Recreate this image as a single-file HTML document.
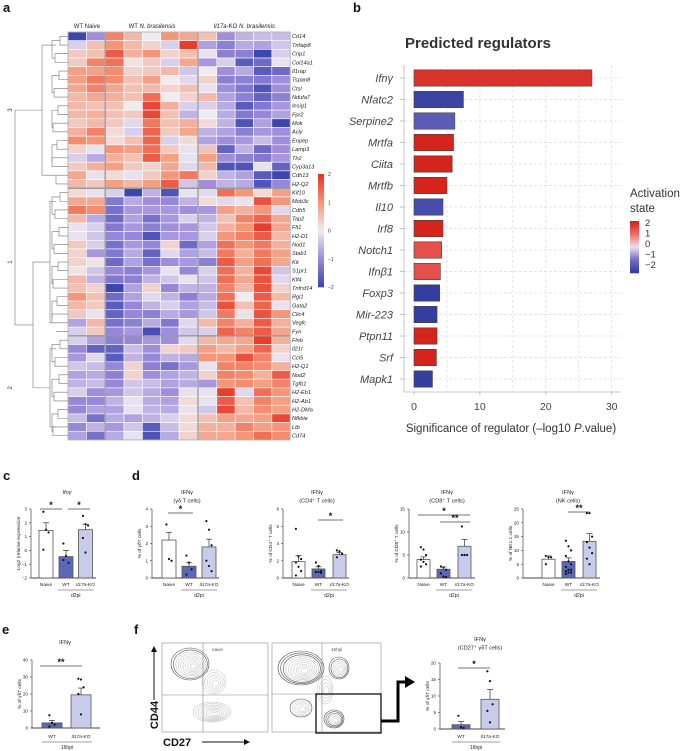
<!DOCTYPE html>
<html><head><meta charset="utf-8"><style>
html,body{margin:0;padding:0;background:#fff;}
svg{display:block;font-family:"Liberation Sans",sans-serif;}
</style></head><body>
<svg id="fig" width="683" height="751" viewBox="0 0 683 751" xmlns="http://www.w3.org/2000/svg">
<g font-weight="bold" font-size="13" fill="#111">
<text x="3" y="12">a</text>
<text x="353" y="12">b</text>
<text x="3" y="480">c</text>
<text x="132" y="480">d</text>
<text x="2" y="634">e</text>
<text x="134" y="634">f</text>
</g>
<g id="heat"></g>
<g id="regs"></g>
<g id="bars"></g>
<g id="flow"></g>
</svg>
<script>
const NS="http://www.w3.org/2000/svg";
// ---------- heatmap data ----------
const heatGenes=["Cd14","Tnfaip8","Crip1","Col14a1","Il1rap","Tspan8","Ctsl","Ndufa7","Insig1","Fpr2","Mok","Acly","Enpep","Lamp3","Tlr2","Cyp3a13","Cdh13","H2-Q2",
"Kif10","Mob3c","Cdh5","Tap2","Flt1","H2-D1","Nod1","Stab1","Kit","S1pr1","Klf4","Tnfrsf14","Rgl1","Gata2","Clic4","Vegfc","Fyn",
"Flnb","Il21r","Ccl5","H2-Q1","Nod2","Tgfb1","H2-Eb1","H2-Ab1","H2-DMa","Nfkbie","Ltb","Cd74"];
const heatGroups=["WT Naive","WT N. brasilensis","Il17a-KO N. brasilensis"];
const heatValues=[
[-2,-1,1.2,0.6,0,1,0.8,0.5,-1,-0.6,-0.5,-0.5],
[-0.3,0.5,1,0.6,0.3,-0.3,1.9,-0.8,-1.2,-0.7,-0.8,-0.4],
[0.4,0.5,1.6,0.7,1,0.3,0.5,-0.1,-1.2,-1.2,-2,-0.3],
[0.4,1.2,1.4,0.1,0.4,-0.3,0.8,-0.9,-0.3,-1.7,-1.5,-0.1],
[0.9,0.9,1.1,0.3,0.4,0.6,-0.4,0,-1,-0.7,-1.7,-1.5],
[0.9,1.3,1.1,0.5,0.9,0,-0.2,0.3,-1.2,-1.2,-1.3,-1],
[0.8,1.2,0.8,0.5,0.6,0.3,0.5,-0.1,-1,-1.3,-1.8,-1],
[0.6,0.8,0.7,0.5,1.4,0,0.3,0.6,-0.8,-1.2,-1.6,-1.2],
[0.6,0.5,0.5,0,1.8,0.7,-0.3,-0.3,-0.7,-1.7,-1.3,-0.9],
[0.6,0.7,0.5,0.4,1.8,0.5,-0.6,0,-0.7,-1.3,-1.1,-0.8],
[0.4,0.6,0.4,-0.2,1.3,0.5,0.7,0.2,-0.6,-1.8,-0.8,-2],
[0.7,1.2,0.2,-0.3,1.5,0.4,0.8,-0.6,-0.8,-1.2,-0.9,-1],
[1.1,1,0.2,0.5,1.5,-0.3,0.2,-0.8,-1,-0.9,-0.5,-1],
[0.3,-0.1,1,0.9,1.4,0.4,-0.1,0.5,-1.6,-0.6,-1.5,-1],
[-0.3,-0.7,0.7,0.5,1.6,0.9,-0.1,0.9,-1,-1.2,-1.3,-0.9],
[0.4,0.7,0.9,0.4,0.3,0.8,-0.2,0.6,-1.8,-1.8,-0.1,-1.6],
[0.8,-0.1,0.2,-0.1,0.4,1,1.3,0.3,-0.6,-0.8,-1.7,-2],
[0.6,0.4,0.9,0.6,0.9,1.6,-0.4,-1,-0.6,-0.7,-1.8,-1.1],
[0.2,-0.1,-0.3,-2,-0.6,-1.8,-0.1,-0.2,1.4,1,0.2,0.9],
[0.8,0.8,-1.3,-0.7,-1,-1.1,-0.6,0.2,-0.2,-0.1,1.7,1],
[1.3,1.1,-1.4,-0.9,-0.9,-0.9,-1,-0.9,0.9,0.7,1,-0.2],
[0.6,-0.7,-1.5,-0.8,-1.4,-0.9,-0.3,-0.6,0.5,1.2,1.5,0.8],
[-0.1,-0.3,-1.3,-0.9,-1.2,-1,-0.9,-0.4,0.7,1,1.9,0.8],
[-0.1,-0.4,-1.1,-1.1,-1.8,-0.9,-0.9,-0.3,1,1.2,1.6,0.6],
[0.4,-0.3,-1.4,-0.9,-1.1,0.3,-1.5,-0.8,1.4,1,1.3,0.7],
[0.3,-0.9,-1.3,-0.7,-1.6,-0.2,-0.8,-0.5,1.3,0.7,1.3,0.9],
[0.3,0.1,-1.5,-0.8,-1.4,-1,-0.9,-1.2,1.6,0.9,1.4,0.8],
[0.1,-0.4,-1.1,-1.2,-0.9,-0.1,-1.1,-0.3,1.4,0.7,1.8,-0.4],
[0.6,-0.6,-1.3,-1.2,-0.6,-0.4,-0.1,-0.4,1.4,0.8,1.7,-0.2],
[0.5,0.3,-2,-0.8,0.3,-1.1,-0.6,-0.6,1.2,0.6,1.7,0.3],
[1,0.5,-1.5,-0.8,-0.2,-0.6,-1.2,-0.7,1.4,0,1.6,0.6],
[0.6,0.4,-1.7,-1.1,-0.6,-0.3,-0.8,-0.5,1.7,0.5,1.5,-0.1],
[0.4,-0.1,-1.6,-1.1,-1.2,-0.7,-0.9,-0.4,1.3,-0.1,1.7,1],
[-0.8,0.6,-1.4,-1.2,-0.7,-1.3,-0.2,0.6,1.2,0.7,1.6,0.7],
[-0.3,0.4,-1.1,-0.9,-1.9,-1,-0.4,-0.3,1.5,1.2,1.6,0.8],
[-0.3,-0.8,-1.2,-1.1,-0.9,-1,-0.2,0.6,0.8,0.8,1.9,0.7],
[-1.1,-1.6,-1.6,-0.5,-1,0.3,0.4,0.9,0.6,0.9,1.5,0.3],
[-0.9,-0.2,-1.7,-0.6,-1.1,-0.6,-0.7,1,1,1.7,1.2,-0.1],
[-0.4,-0.5,-1.1,0.3,-1.2,-1.4,-0.9,-0.1,1.2,1.2,1.1,0.7],
[-0.8,-0.7,-1.2,0.3,-1,-0.8,-0.6,0.3,1.2,1.1,0.7,1.6],
[-0.6,-0.5,-1.1,-0.4,-0.5,-0.8,-0.7,-0.9,1,1.1,0.9,1.2],
[-0.3,-1,-0.9,-0.4,-0.7,-1,-0.1,-0.1,1.9,-0.2,1.4,1],
[-1.1,-1.1,-0.6,-0.1,-0.7,-0.8,0.2,-0.1,1.6,0.5,1.2,0.9],
[-1.1,-0.8,-0.8,-0.1,-0.6,-0.7,-0.1,-0.4,1.8,0.6,1.1,0.9],
[-0.5,-1.4,-0.7,-0.8,-0.6,-0.3,0.2,0.5,0.9,0.8,0.9,1.8],
[-1.1,-0.6,-0.9,-0.4,-1.7,-0.5,0.2,0.7,0.7,1.2,0.9,1],
[-0.8,-1.4,-0.7,-0.1,-1.8,-0.7,0.3,0.8,0.8,1,1.4,1.1]];
const heatClusterSizes=[18,17,12];
const heatClusterNames=["3","1","2"];
const heatLegendTicks=[2,1,0,-1,-2];
// ---------- regulators data ----------
const regNames=["Ifnγ","Nfatc2","Serpine2","Mrtfa","Ciita","Mrtfb","Il10","Irf8","Notch1","Ifnβ1","Foxp3","Mir-223","Ptpn11","Srf","Mapk1"];
const regSignif=[27,7.5,6.2,6.0,5.8,5.0,4.4,4.4,4.2,4.0,3.9,3.5,3.5,3.4,2.8];
const regActivation=[1.8,-1.9,-1.4,2.4,2.1,2.1,-1.7,2.4,1.4,1.4,-2,-2.3,2.1,2.1,-2];
const regTicks=[0,10,20,30];
const regLegendTicks=[2,1,0,-1,-2];
// ---------- bar chart data ----------
const cMeans=[1.45,-0.45,1.5], cSems=[0.55,0.45,0.4];
const cPts=[[2.8,1.5,1.3,0.05],[0.5,-0.4,-0.9,-0.7],[2.5,1.9,1.8,0.9,-0.15]];
const gdMeans=[2.2,0.68,1.8], gdSems=[0.45,0.2,0.45];
const gdPts=[[3.1,1.1,1.0],[1.3,0.9,0.5,0.2],[3.3,2.8,1.9,1.0,0.7,0.4]];
const cd4Means=[1.9,1.05,2.7], cd4Sems=[0.7,0.25,0.25];
const cd4Pts=[[5.7,2.5,2.2,1.8,1.3,0.8,0.3],[1.8,1.4,0.8,0.7,0.7,0.6],[3.2,3.1,2.8,2.4]];
const cd8Means=[4.0,1.9,6.9], cd8Sems=[0.6,0.5,1.5];
const cd8Pts=[[6.7,6.2,5,4,3.5,3,2.5],[2.5,2.3,1.8,1,0.3,0.2],[11.2,5,5,5,5]];
const nkMeans=[6.8,6.0,13.3], nkSems=[1.2,1.3,2.8];
const nkPts=[[8,7.5,7.5,5],[13.5,11.5,10,8,6,5,4,3,3,2.5,2,2,1.5],[23.5,23.5,15,13,11,9,7,5]];
const eMeans=[3,19.5], eSems=[1.5,4];
const ePts=[[7.5,3,2,0.8],[29,28.5,24,20,8]];
const fMeans=[1.3,9], fSems=[1,3];
const fPts=[[4,0.5,0.3],[17.5,14.5,7.5,5.5,2]];
const cats3=["Naive","WT","Il17a-KO"], cats2=["WT","Il17a-KO"];

function el(tag,attrs,parent,txt){const e=document.createElementNS(NS,tag);for(const k in attrs)e.setAttribute(k,attrs[k]);if(txt!==undefined)e.textContent=txt;parent.appendChild(e);return e;}
function lerp(a,b,t){return a.map((v,i)=>Math.round(v+(b[i]-v)*t));}
function scaleColor(v,stops){const c=Math.max(-2,Math.min(2,v));const i=Math.min(3,Math.floor(c+2));const t=c+2-i;const r=lerp(stops[i],stops[i+1],t);return `rgb(${r[0]},${r[1]},${r[2]})`;}
const heatStops=[[60,70,175],[160,142,220],[240,235,240],[245,150,120],[230,52,38]];
const regStops=[[52,62,160],[120,110,200],[235,225,240],[238,110,105],[212,36,28]];

// ---------- heatmap ----------
(function(){
const g=document.getElementById('heat');
const x0=68,y0=32,cw=18.35,rh=8.68;
const colX=i=>x0+i*cw+(i>=2?1:0)+(i>=7?1:0);
heatValues.forEach((row,r)=>{row.forEach((v,c)=>{
 const rc=el('rect',{x:colX(c),y:y0+r*rh,width:cw,height:rh,fill:scaleColor(v,heatStops),stroke:'#fff','stroke-width':0.6},g);
 
 
});
 const t=el('text',{x:292,y:y0+r*rh+rh*0.72,'font-size':5.6,'font-style':'italic',fill:'#222'},g,heatGenes[r]);
 
 
});
const totalW=colX(11)+cw;
let acc=0;
heatClusterSizes.forEach((n,i)=>{acc+=n;if(i<heatClusterSizes.length-1)el('line',{x1:x0,x2:totalW,y1:y0+acc*rh,y2:y0+acc*rh,stroke:'#999','stroke-width':1.4},g);});
[colX(2)-0.5,colX(7)-0.5].forEach(x=>el('line',{x1:x,x2:x,y1:y0,y2:y0+heatGenes.length*rh,stroke:'#999','stroke-width':1.4},g));
el('rect',{x:x0,y:y0,width:totalW-x0,height:heatGenes.length*rh,fill:'none',stroke:'#aaa','stroke-width':0.8},g);
const hx=[(colX(0)+colX(2))/2,(colX(2)+colX(7))/2,(colX(7)+totalW)/2];
heatGroups.forEach((h,i)=>{const t=el('text',{x:hx[i],y:28,'font-size':6,'text-anchor':'middle',fill:'#222'},g);
 
 
 if(i===0)t.textContent=h;
 else if(i===1){el('tspan',{},t,'WT ');el('tspan',{'font-style':'italic'},t,'N. brasilensis');}
 else{el('tspan',{'font-style':'italic'},t,'Il17a');el('tspan',{},t,'-KO ');el('tspan',{'font-style':'italic'},t,'N. brasilensis');}
});
const d=el('g',{stroke:'#777','stroke-width':0.6,fill:'none'},g);


const yc=i=>y0+(i+0.5)*rh;
let start=0;const centers=[];
heatClusterSizes.forEach((n,ci)=>{
 const ys=[];for(let i=start;i<start+n;i++)ys.push(yc(i));
 for(let i=0;i<ys.length;i+=2){const a=ys[i],b=ys[Math.min(i+1,ys.length-1)];const lx=60-((i*7)%9);
  el('path',{d:`M68 ${a} H${lx} V${b} H68`},d);}
 for(let i=0;i<ys.length-2;i+=4){const a=(ys[i]+ys[i+1])/2,b=(ys[Math.min(i+2,ys.length-1)]+ys[Math.min(i+3,ys.length-1)])/2;const lx=52-((i*3)%6);
  el('path',{d:`M${60-((i*7)%9)} ${a} H${lx} V${b} H${60-(((i+2)*7)%9)}`},d);}
 const top=ys[0]+rh,bot=ys[ys.length-1]-rh;const mx=[42,50,50][ci];
 el('path',{d:`M56 ${top} H${mx} V${bot} H56`},d);
 centers.push((top+bot)/2);start+=n;
});
el('path',{d:`M50 ${centers[1]} H33 V${centers[2]} H50`},d);
const c12=(centers[1]+centers[2])/2;
el('path',{d:`M42 ${centers[0]} H15 V${c12} H33`},d);
heatClusterNames.forEach((nm,i)=>{const t=el('text',{x:0,y:0,'font-size':6,fill:'#333',transform:`translate(12,${centers[i]}) rotate(-90)`,'text-anchor':'middle'},g,nm);
 
 });
const lg=el('g',{},g);


const ly0=174,ly1=287;
for(let i=0;i<40;i++){const v=2-4*i/39;el('rect',{x:318,y:ly0+i*(ly1-ly0)/40,width:6,height:(ly1-ly0)/40+0.3,fill:scaleColor(v,heatStops)},lg);}
heatLegendTicks.forEach(v=>{const y=ly0+(2-v)/4*(ly1-ly0);el('text',{x:328,y:y+2,'font-size':5,fill:'#333'},lg,v<0?'−'+(-v):String(v));});
})();

// ---------- regulators ----------
(function(){
const g=document.getElementById('regs');
const px0=404,px1=621,py0=65,py1=392;
const xs=v=>414+v*(611.7-414)/30;
const rowY=i=>78+i*21.5;
const t=el('text',{x:405,y:48,'font-size':15,'font-weight':'bold',fill:'#333'},g,'Predicted  regulators');

const grid=el('g',{stroke:'#ddd','stroke-width':0.7,'stroke-dasharray':'3,2'},g);
for(let v=0;v<=30;v+=5)el('line',{x1:xs(v),x2:xs(v),y1:py0,y2:py1},grid);
regNames.forEach((n,i)=>el('line',{x1:px0,x2:px1,y1:rowY(i),y2:rowY(i)},grid));
el('line',{x1:px0,x2:px0,y1:py0,y2:py1,stroke:'#bbb','stroke-width':0.8},g);
el('line',{x1:px0,x2:px1,y1:py1,y2:py1,stroke:'#bbb','stroke-width':0.8},g);
regNames.forEach((n,i)=>{
 const b=el('rect',{x:xs(0),y:rowY(i)-8.2,width:xs(regSignif[i])-xs(0),height:16.4,fill:scaleColor(regActivation[i],regStops),stroke:'#444','stroke-width':0.6},g);
 
 
 el('line',{x1:px0-4,x2:px0,y1:rowY(i),y2:rowY(i),stroke:'#aaa','stroke-width':0.7},g);
 const l=el('text',{x:393,y:rowY(i)+4,'font-size':11,'font-style':'italic','text-anchor':'end',fill:'#444'},g,n);
 
});
regTicks.forEach(v=>{el('line',{x1:xs(v),x2:xs(v),y1:py1,y2:py1+3,stroke:'#aaa','stroke-width':0.7},g);
 const l=el('text',{x:xs(v),y:410,'font-size':10.5,'text-anchor':'middle',fill:'#444'},g,String(v));
 });
const xl=el('text',{x:511,y:432,'font-size':11.5,'text-anchor':'middle',fill:'#333'},g);

el('tspan',{},xl,'Significance of  regulator (–log10 ');el('tspan',{'font-style':'italic'},xl,'P');el('tspan',{},xl,'.value)');
const lt=el('text',{x:630,y:197,'font-size':11.5,fill:'#333'},g);

el('tspan',{x:630,y:197},lt,'Activation');el('tspan',{x:630,y:212},lt,'state');
for(let i=0;i<30;i++){const v=2-4*i/29;el('rect',{x:630,y:221+i*52/30,width:9,height:52/30+0.3,fill:scaleColor(v,regStops)},g);}
regLegendTicks.forEach(v=>el('text',{x:645,y:226+(2-v)/4*42,'font-size':9.5,fill:'#333'},g,v<0?'−'+(-v):String(v)));
})();

// ---------- small bar charts ----------
function barChart(o){
const g=el('g',{},document.getElementById('bars'));


const ys=v=>o.yBot-(v-o.vmin)/(o.vmax-o.vmin)*(o.yBot-o.yTop);
const colors=o.means.length===3?['#fff','#5b67b8','#c9cbeb']:['#5b67b8','#c9cbeb'];
el('line',{x1:o.axisX,x2:o.axisX,y1:o.yTop,y2:o.yBot,stroke:'#444','stroke-width':0.7},g);
el('line',{x1:o.axisX,x2:o.xEnd,y1:o.yBot,y2:o.yBot,stroke:'#444','stroke-width':0.9},g);
for(let v=o.vmin;v<=o.vmax+1e-9;v+=o.step){el('line',{x1:o.axisX-2,x2:o.axisX,y1:ys(v),y2:ys(v),stroke:'#444','stroke-width':0.6},g);
 el('text',{x:o.axisX-4,y:ys(v)+1.6,'font-size':4.6,'text-anchor':'end',fill:'#222'},g,v<0?'−'+(-v):String(v));}
o.means.forEach((m,i)=>{
 const cx=o.centers[i],w=o.barW;
 const b=el('rect',{x:cx-w/2,y:ys(m),width:w,height:o.yBot-ys(m),fill:colors[i],stroke:'#555','stroke-width':0.8},g);
 
 
 const top=ys(m+o.sems[i]);
 el('line',{x1:cx,x2:cx,y1:ys(m),y2:top,stroke:'#333','stroke-width':0.7},g);
 el('line',{x1:cx-3,x2:cx+3,y1:top,y2:top,stroke:'#333','stroke-width':0.7},g);
 o.pts[i].forEach((p,j)=>{const off=((j%3)-1)*2.6;const d=el('circle',{cx:cx+off,cy:ys(p),r:1.1,fill:'#111'},g);
  });
 const lab=el('text',{x:cx,y:o.catY,'font-size':4.8,'text-anchor':'middle',fill:'#222'},g);
 if(o.cats[i]==='Il17a-KO'){el('tspan',{'font-style':'italic'},lab,'Il17a');el('tspan',{},lab,'-KO');}else lab.textContent=o.cats[i];
});
const gx0=o.centers[o.centers.length-2]-o.barW/2-1,gx1=o.centers[o.centers.length-1]+o.barW/2+1;
const ul0=o.means.length===3?gx0:o.centers[0]-o.barW/2;
el('line',{x1:ul0,x2:gx1,y1:o.catY+4,y2:o.catY+4,stroke:'#444','stroke-width':0.6},g);
el('text',{x:(ul0+gx1)/2,y:o.catY+11,'font-size':5,'text-anchor':'middle',fill:'#222'},g,o.group);
o.titles.forEach((t,k)=>{const tt=el('text',{x:o.titleX,y:o.titleY+k*8.5,'font-size':5.6,'text-anchor':'middle',fill:'#222','font-style':o.titleItalic&&k===0?'italic':'normal'},g,t);
 });
const yl=el('text',{x:0,y:0,'font-size':4.8,'text-anchor':'middle',fill:'#222',transform:`translate(${o.axisX-11},${(o.yTop+o.yBot)/2}) rotate(-90)`},g,o.ylab);

o.stars.forEach(s=>{el('line',{x1:s[0],x2:s[1],y1:s[2],y2:s[2],stroke:'#444','stroke-width':0.7},g);
 el('text',{x:(s[0]+s[1])/2,y:s[2]-1,'font-size':9,'font-weight':'bold','text-anchor':'middle',fill:'#111'},g,s[3]);});
}
barChart({name:'chart-c-ifng-expression',axisX:31,xEnd:96,yTop:509,yBot:578,vmin:-2,vmax:3,step:1,centers:[46,66,85.5],barW:14,means:cMeans,sems:cSems,pts:cPts,cats:cats3,catY:586,group:'d2pi',titles:['Ifnγ'],titleItalic:true,titleX:67,titleY:494,ylab:'Log2 (relative expression',stars:[[40,62,509,'*'],[68,90,509,'*']]});
barChart({name:'chart-d-gd-t-cells',axisX:152,xEnd:219,yTop:509,yBot:578,vmin:0,vmax:4,step:1,centers:[169,189,209],barW:14,means:gdMeans,sems:gdSems,pts:gdPts,cats:cats3,catY:586,group:'d2pi',titles:['IFNγ','(γδ T cells)'],titleX:187,titleY:494,ylab:'% of γδT cells',stars:[[168,193,513,'*']]});
barChart({name:'chart-d-cd4-t-cells',axisX:283,xEnd:349,yTop:509,yBot:578,vmin:0,vmax:8,step:2,centers:[298.5,318.5,339.5],barW:13,means:cd4Means,sems:cd4Sems,pts:cd4Pts,cats:cats3,catY:586,group:'d2pi',titles:['IFNγ','(CD4⁺ T cells)'],titleX:317,titleY:494,ylab:'% of CD4⁺ T cells',stars:[[318,343,520,'*']]});
barChart({name:'chart-d-cd8-t-cells',axisX:409,xEnd:475,yTop:509,yBot:578,vmin:0,vmax:15,step:5,centers:[423.5,443.5,464.5],barW:13,means:cd8Means,sems:cd8Sems,pts:cd8Pts,cats:cats3,catY:586,group:'d2pi',titles:['IFNγ','(CD8⁺ T cells)'],titleX:447,titleY:494,ylab:'% of CD8⁺ T cells',stars:[[418,470,515,'*'],[440,470,522,'**']]});
barChart({name:'chart-d-nk-cells',axisX:523,xEnd:600,yTop:509,yBot:578,vmin:0,vmax:25,step:5,centers:[548.5,568.5,589.5],barW:13,means:nkMeans,sems:nkSems,pts:nkPts,cats:cats3,catY:586,group:'d2pi',titles:['IFNγ','(NK cells)'],titleX:568,titleY:494,ylab:'% of NK1.1 cells',stars:[[568,590,512,'**']]});
barChart({name:'chart-e-gd-t-cells',axisX:32,xEnd:100,yTop:660,yBot:728,vmin:0,vmax:40,step:10,centers:[52,81],barW:20,means:eMeans,sems:eSems,pts:ePts,cats:cats2,catY:738,group:'16hpi',titles:['IFNγ'],titleX:65,titleY:644,ylab:'% of γδT cells',stars:[[40,82,666,'**']]});
barChart({name:'chart-f-cd27-gd-t-cells',axisX:440,xEnd:505,yTop:663,yBot:729,vmin:0,vmax:20,step:5,centers:[461,490],barW:18,means:fMeans,sems:fSems,pts:fPts,cats:cats2,catY:738,group:'16hpi',titles:['IFNγ','(CD27⁺ γδT cells)'],titleX:480,titleY:641,ylab:'% of γδT cells',stars:[[458,490,668,'*']]});

// ---------- flow plots ----------
(function(){
const g=document.getElementById('flow');
function plot(x0,x1,vx,hy,label,blobs,name){
 const p=el('g',{},g);
 
 
 blobs.forEach(b=>{for(let k=0;k<b[5];k++){const f=1-k/(b[5]+0.5);
  const dark=k<b[4];
  el('ellipse',{cx:b[0]+k*0.4,cy:b[1]+k*0.3,rx:b[2]*f,ry:b[3]*f,fill:'none',stroke:dark?'#555':'#aaa','stroke-width':dark?0.6:0.4},p);}});
 el('rect',{x:x0,y:643,width:x1-x0,height:89,fill:'none',stroke:'#aaa','stroke-width':0.8},p);
 el('line',{x1:vx,x2:vx,y1:643,y2:732,stroke:'#888','stroke-width':0.6},p);
 el('line',{x1:x0,x2:x1,y1:hy,y2:hy,stroke:'#888','stroke-width':0.6},p);
 el('text',{x:vx+9,y:651,'font-size':4.6,fill:'#555'},p,label);
}
plot(162,268,203,695,'naive',[[190,664,19,16,2,9],[214,682,12,12,0,5],[212,712,19,10,0,8]],'flow-plot-naive');
plot(272,381,322,694,'16hpi',[[301,668,23,17,3,10],[339,668,10,11,2,6],[301,708,11,9,1,5],[334,719,10,9,3,6],[325,690,8,14,0,4]],'flow-plot-16hpi');
el('rect',{x:316,y:694,width:65,height:39,fill:'none',stroke:'#111','stroke-width':1.3},g);
el('path',{d:'M381 721 H398 V682 H406',fill:'none',stroke:'#000','stroke-width':3},g);
el('path',{d:'M405 676 L415 682 L405 688 Z',fill:'#000'},g);
el('line',{x1:154,x2:154,y1:700,y2:650,stroke:'#111','stroke-width':1},g);
el('path',{d:'M151 652 L154 646 L157 652 Z',fill:'#111'},g);
const y=el('text',{x:0,y:0,'font-size':11,'font-weight':'bold',fill:'#111','text-anchor':'middle',transform:'translate(158,715) rotate(-90)'},g,'CD44');

const x=el('text',{x:163,y:746,'font-size':11,'font-weight':'bold',fill:'#111'},g,'CD27');

el('line',{x1:202,x2:245,y1:742,y2:742,stroke:'#111','stroke-width':1},g);
el('path',{d:'M244 739 L250 742 L244 745 Z',fill:'#111'},g);
})();
</script>
</body></html>
